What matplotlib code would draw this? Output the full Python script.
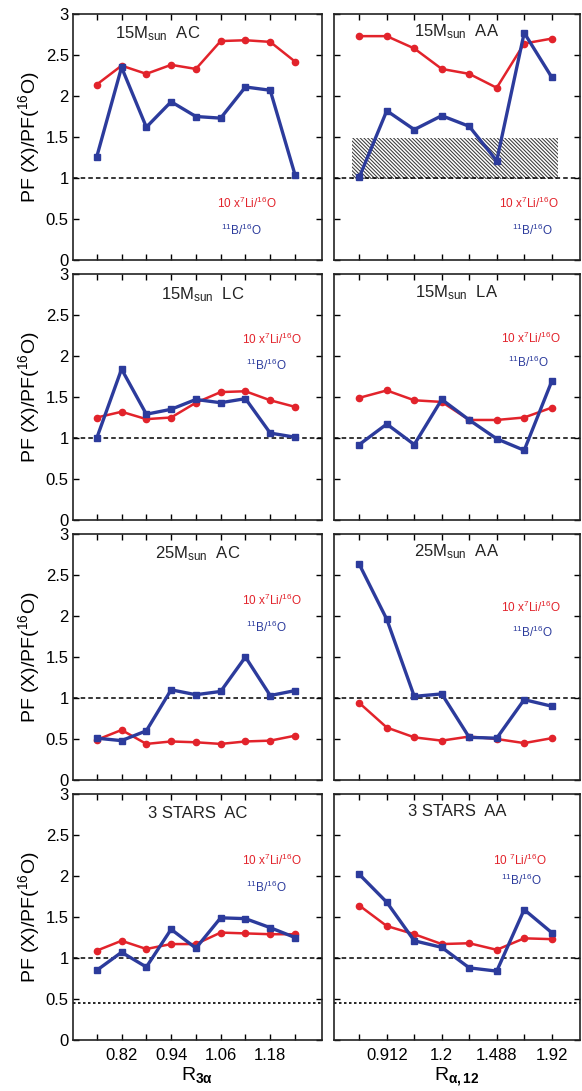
import numpy as np
import matplotlib
matplotlib.use("Agg")
from matplotlib import pyplot as plt

# x categories
r3a = ["0.76", "0.82", "0.88", "0.94", "1.00", "1.06", "1.12", "1.18", "1.24"]
r3a_shown = ["", "0.82", "", "0.94", "", "1.06", "", "1.18", ""]
ra12 = ["0.768", "0.912", "1.056", "1.2", "1.344", "1.488", "1.632", "1.92"]
ra12_shown = ["", "0.912", "", "1.2", "", "1.488", "", "1.92"]

# 10 x 7Li/16O (red) and 11B/16O (blue)
li_15_ac = [2.14, 2.37, 2.27, 2.38, 2.33, 2.67, 2.68, 2.66, 2.42]
b_15_ac = [1.26, 2.35, 1.62, 1.93, 1.75, 1.73, 2.11, 2.07, 1.04]
li_15_aa = [2.73, 2.73, 2.58, 2.33, 2.27, 2.10, 2.64, 2.70]
b_15_aa = [1.01, 1.82, 1.59, 1.76, 1.63, 1.21, 2.77, 2.23]

li_15_lc = [1.25, 1.32, 1.23, 1.25, 1.43, 1.56, 1.57, 1.46, 1.38]
b_15_lc = [1.00, 1.84, 1.29, 1.35, 1.47, 1.43, 1.48, 1.06, 1.01]
li_15_la = [1.49, 1.58, 1.46, 1.44, 1.22, 1.22, 1.25, 1.37]
b_15_la = [0.92, 1.17, 0.92, 1.47, 1.22, 0.99, 0.85, 1.69]

li_25_ac = [0.49, 0.61, 0.44, 0.47, 0.46, 0.44, 0.47, 0.48, 0.54]
b_25_ac = [0.51, 0.48, 0.60, 1.10, 1.04, 1.08, 1.50, 1.03, 1.09]
li_25_aa = [0.94, 0.64, 0.52, 0.48, 0.53, 0.50, 0.45, 0.51]
b_25_aa = [2.63, 1.96, 1.02, 1.05, 0.52, 0.51, 0.98, 0.90]

li_3s_ac = [1.09, 1.21, 1.11, 1.17, 1.17, 1.31, 1.30, 1.29, 1.29]
b_3s_ac = [0.85, 1.07, 0.89, 1.35, 1.12, 1.49, 1.48, 1.37, 1.25]
li_3s_aa = [1.64, 1.39, 1.29, 1.17, 1.18, 1.10, 1.24, 1.23]
b_3s_aa = [2.02, 1.68, 1.21, 1.13, 0.88, 0.84, 1.59, 1.31]

titles = [r"15M$_{\mathregular{sun}}$  AC", r"15M$_{\mathregular{sun}}$  AA",
          r"15M$_{\mathregular{sun}}$  LC", r"15M$_{\mathregular{sun}}$  LA",
          r"25M$_{\mathregular{sun}}$  AC", r"25M$_{\mathregular{sun}}$  AA",
          "3 STARS  AC", "3 STARS  AA"]

RED = "#e2232b"
BLUE = "#2c3b9c"

plt.rcParams['font.family'] = ['Liberation Sans', 'DejaVu Sans']
plt.rcParams['mathtext.fontset'] = 'custom'
plt.rcParams['mathtext.rm'] = 'Liberation Sans'
plt.rcParams['mathtext.it'] = 'Liberation Sans'
plt.rcParams['mathtext.bf'] = 'Liberation Sans:bold'
plt.rcParams['hatch.linewidth'] = 0.75

fig = plt.figure(figsize=(5.82, 10.91), dpi=100)

left_x, left_w = 73 / 582, 249 / 582
right_x, right_w = 334 / 582, 246 / 582
row_bottoms = [1 - 260 / 1091, 1 - 520 / 1091, 1 - 780 / 1091, 1 - 1040 / 1091]
row_h = 246 / 1091

panels = [
    (li_15_ac, b_15_ac), (li_15_aa, b_15_aa),
    (li_15_lc, b_15_lc), (li_15_la, b_15_la),
    (li_25_ac, b_25_ac), (li_25_aa, b_25_aa),
    (li_3s_ac, b_3s_ac), (li_3s_aa, b_3s_aa),
]
title_pos = [(0.34, 0.92), (0.50, 0.93), (0.52, 0.915), (0.50, 0.925),
             (0.50, 0.92), (0.50, 0.93), (0.50, 0.92), (0.50, 0.93)]
red_lab_pos = [(0.82, 0.23), (0.915, 0.23), (0.92, 0.735), (0.92, 0.74),
               (0.92, 0.73), (0.92, 0.70), (0.92, 0.73), (0.865, 0.73)]
blue_lab_pos = [(0.76, 0.12), (0.89, 0.12), (0.86, 0.63), (0.875, 0.64),
                (0.86, 0.62), (0.89, 0.60), (0.86, 0.62), (0.845, 0.65)]

for i, (li, b) in enumerate(panels):
    row, col = divmod(i, 2)
    if col == 0:
        ax = fig.add_axes([left_x, row_bottoms[row], left_w, row_h])
        cats, shown = r3a, r3a_shown
        ax.set_xlim(-0.96, len(cats) - 1 + 1.09)
    else:
        ax = fig.add_axes([right_x, row_bottoms[row], right_w, row_h])
        cats, shown = ra12, ra12_shown
        ax.set_xlim(-0.92, len(cats) - 1 + 1.03)
    x = np.arange(len(cats))

    ax.axhline(1.0, color="black", ls=(0, (3, 2)), lw=1.1, zorder=1)
    if row == 3:
        ax.axhline(0.45, color="black", ls=(0, (1.5, 1.5)), lw=1.2, zorder=1)
    if i == 1:
        ax.fill_between([-0.27, 7.23], 0.99, 1.49, facecolor="none",
                        edgecolor="#3a3a3a", hatch="\\" * 9, lw=0, zorder=0)

    ax.plot(x, li, color=RED, lw=1.8, marker="o", ms=4.5, zorder=3)
    ax.plot(x, b, color=BLUE, lw=2.4, marker="s", ms=5, zorder=4)

    ax.set_ylim(0, 3)
    ax.set_yticks(np.arange(0, 3.01, 0.5))
    ax.set_yticklabels(["0", "0.5", "1", "1.5", "2", "2.5", "3"])
    ax.set_xticks(x)
    ax.tick_params(direction="in", length=4, width=1, top=True, right=True,
                   labelsize=12, colors="black", pad=3)
    if col == 1:
        ax.tick_params(labelleft=False)
    else:
        ax.set_ylabel(r"PF (X)/PF($^{\mathregular{16}}$O)", fontsize=14, labelpad=3)
    if row == 3:
        ax.set_xticklabels(shown)
        ax.tick_params(axis="x", pad=6)
    else:
        ax.set_xticklabels([])
    for sp in ax.spines.values():
        sp.set_linewidth(1.2)
        sp.set_color("#222222")

    ax.text(*title_pos[i], titles[i], transform=ax.transAxes, ha="center",
            va="center", fontsize=12, color="#222222")
    red_text = r"10 $^{\mathregular{7}}$Li/$^{\mathregular{16}}$O" if i == 7 \
        else r"10 x$^{\mathregular{7}}$Li/$^{\mathregular{16}}$O"
    ax.text(*red_lab_pos[i], red_text, transform=ax.transAxes, ha="right",
            va="center", fontsize=8.5, color=RED)
    ax.text(*blue_lab_pos[i], r"$^{\mathregular{11}}$B/$^{\mathregular{16}}$O",
            transform=ax.transAxes, ha="right", va="center", fontsize=8.5, color=BLUE)

    if row == 3:
        if col == 0:
            ax.set_xlabel(r"R$_{\mathbf{3\alpha}}$", fontsize=14, labelpad=1)
        else:
            ax.set_xlabel(r"R$_{\mathbf{\alpha,12}}$", fontsize=14, labelpad=1)

fig.savefig("out.png", dpi=100)
